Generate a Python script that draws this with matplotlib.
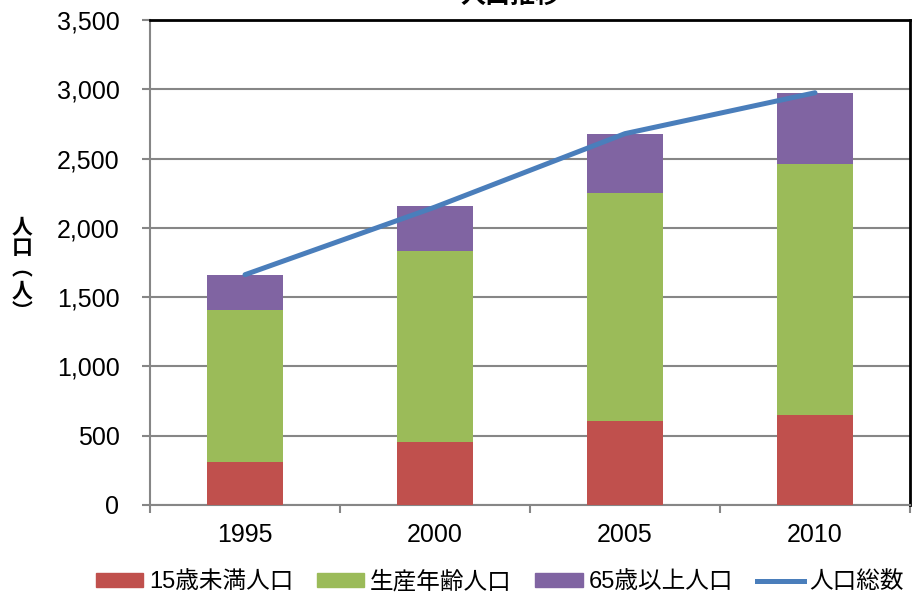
import matplotlib
matplotlib.use("Agg")
import matplotlib.pyplot as plt
from matplotlib.ticker import FuncFormatter, FixedLocator
from matplotlib.patches import Patch
from matplotlib.lines import Line2D

plt.rcParams['font.family'] = ['Liberation Sans', 'Noto Sans CJK JP', 'DejaVu Sans']

years = ['1995', '2000', '2005', '2010']
under15 = [310, 455, 606, 649]
working = [1097, 1378, 1645, 1811]
over65 = [253, 322, 427, 512]
total = [1662, 2150, 2680, 2975]
series_names = ['15歳未満人口', '生産年齢人口', '65歳以上人口', '人口総数']
colors = ['#C0504D', '#9BBB59', '#8064A2', '#4A7EBB']

fig = plt.figure(figsize=(9.14, 5.97), dpi=100)
ax = fig.add_axes([150/914, 1-505/597, 760/914, 485/597])

x = list(range(len(years)))
w = 0.4
b1 = under15
b2 = [a + b for a, b in zip(under15, working)]
ax.bar(x, under15, w, color=colors[0], zorder=3)
ax.bar(x, working, w, bottom=b1, color=colors[1], zorder=3)
ax.bar(x, over65, w, bottom=b2, color=colors[2], zorder=3)
ax.plot(x, total, color=colors[3], lw=3.6, solid_capstyle='round', zorder=4)

ax.set_xlim(-0.5, len(years) - 0.5)
ax.set_ylim(0, 3500)
ax.yaxis.set_major_locator(FixedLocator(list(range(0, 3501, 500))))
ax.yaxis.set_major_formatter(FuncFormatter(lambda v, p: f'{int(v):,}'))
ax.grid(axis='y', color='#868686', lw=1.5, zorder=0)
ax.set_axisbelow(True)

ax.xaxis.set_major_locator(FixedLocator([i - 0.5 for i in range(len(years) + 1)]))
ax.xaxis.set_major_formatter(FuncFormatter(lambda v, p: ''))
ax.set_xticks(x, minor=True)
ax.set_xticklabels(years, minor=True)
ax.tick_params(axis='x', which='major', direction='out', length=6, width=1.5, color='#868686')
ax.tick_params(axis='x', which='minor', length=0, pad=13, labelsize=18)
ax.tick_params(axis='y', direction='out', length=6, width=1.5, color='#868686', pad=16, labelsize=18)

for s in ['left', 'bottom']:
    ax.spines[s].set_color('#868686')
    ax.spines[s].set_linewidth(1.5)
for s in ['top', 'right']:
    ax.spines[s].set_color('black')
    ax.spines[s].set_linewidth(2)

fig.text(510/914, 1 - 8/597, '人口推移', ha='center', va='bottom', fontsize=18,
         fontweight='bold', family=['Noto Sans CJK JP', 'DejaVu Sans'])

fig.text(22/914, 1 - 269/597, '人\n口\n︵\n人\n︶', ha='center', va='center', fontsize=15,
         fontweight='bold', linespacing=1.02, family=['Noto Sans CJK JP', 'DejaVu Sans'])

handles = [Patch(color=colors[0]), Patch(color=colors[1]), Patch(color=colors[2]),
           Line2D([0], [0], color=colors[3], lw=3.6)]
fig.legend(handles, series_names, loc='center', bbox_to_anchor=(500/914, 1 - 582/597),
           ncol=4, frameon=False, handlelength=2.0, handleheight=0.5,
           handletextpad=0.25, columnspacing=1.0, borderaxespad=0, borderpad=0,
           prop={'family': ['Liberation Sans', 'Noto Sans CJK JP'], 'size': 17})

fig.savefig('out.png', dpi=100)
